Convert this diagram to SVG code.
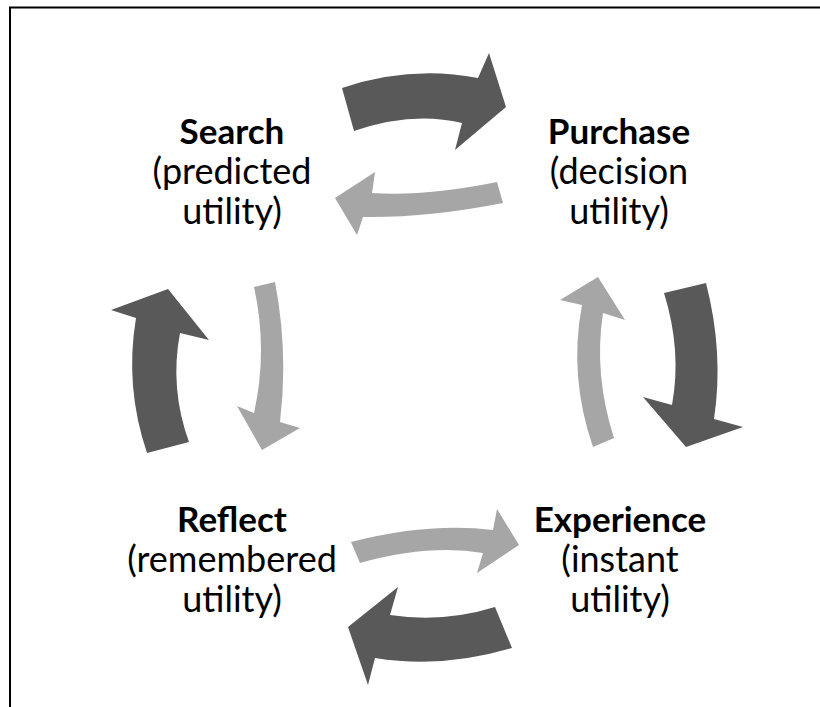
<svg xmlns="http://www.w3.org/2000/svg" width="820" height="707" viewBox="0 0 820 707">
  <style>
    .bg { fill: #ffffff; }
    .frame { fill: none; stroke: #000000; stroke-width: 2; }
    .dark { fill: #595959; }
    .light { fill: #a6a6a6; }
    text { font-family: Lato, "Open Sans", "Liberation Sans", sans-serif; font-size: 36px; fill: #000000; text-anchor: middle; }
    .title { font-weight: bold; font-size: 35px; }
  </style>
  <rect class="bg" x="0" y="0" width="820" height="707"/>
  <path class="frame" d="M10,707 V7.5 H820"/>

  <!-- stage labels -->
  <g id="search">
    <text class="title" x="232" y="144">Search</text>
    <text x="232" y="184">(predicted</text>
    <text x="232" y="224">utility)</text>
  </g>
  <g id="purchase">
    <text class="title" x="619" y="144">Purchase</text>
    <text x="619" y="184">(decision</text>
    <text x="619" y="224">utility)</text>
  </g>
  <g id="experience">
    <text class="title" x="620" y="532">Experience</text>
    <text x="620" y="572">(instant</text>
    <text x="620" y="612">utility)</text>
  </g>
  <g id="reflect">
    <text class="title" x="232" y="532">Reflect</text>
    <text x="232" y="572">(remembered</text>
    <text x="232" y="612">utility)</text>
  </g>

  <!-- curved block arrows between stages -->
  <g id="connectors">
    <!-- search to purchase -->
    <path class="dark" d="M342,88 Q410,65 478,78 L489,53 L506,107 L455,150 L462,123 Q412,111 354,131 Z"/>
    <!-- purchase to search -->
    <path class="light" d="M497,182 L503,203 Q427,218 363,217 L357,235 L335,198 L375,172 L372,193 Q425.5,196.5 497,182 Z"/>
    <!-- purchase to experience -->
    <path class="dark" d="M664,293 L706,283 Q724,353 714,419 L743,427 L686,447 L643,397 L672,405 Q682,351 664,293 Z"/>
    <!-- experience to purchase -->
    <path class="light" d="M598,277 L625,320 L603,313 Q593.5,374.5 614,438 L593,447 Q568.5,376 582,305 L560,300 Z"/>
    <!-- experience to reflect -->
    <path class="dark" d="M495,607 L512,648 Q442.5,669 375,658 L368,685 L348,627 L398,587 L390,615 Q443.5,623 495,607 Z"/>
    <!-- reflect to experience -->
    <path class="light" d="M351,542 Q428,522 493,530 L497,509 L519,545 L477,573 L483,553 Q428.5,544 360,563 Z"/>
    <!-- reflect to search -->
    <path class="dark" d="M168,289 L209,340 L180,333 Q169.5,388.5 189,442 L147,453 Q124.5,386.5 136,318 L111,310 Z"/>
    <!-- search to reflect -->
    <path class="light" d="M254,287 L275,282 Q288.5,352 280,422 L300,428 L262,450 L237,406 L254,413 Q268,350 254,287 Z"/>
  </g>
</svg>
